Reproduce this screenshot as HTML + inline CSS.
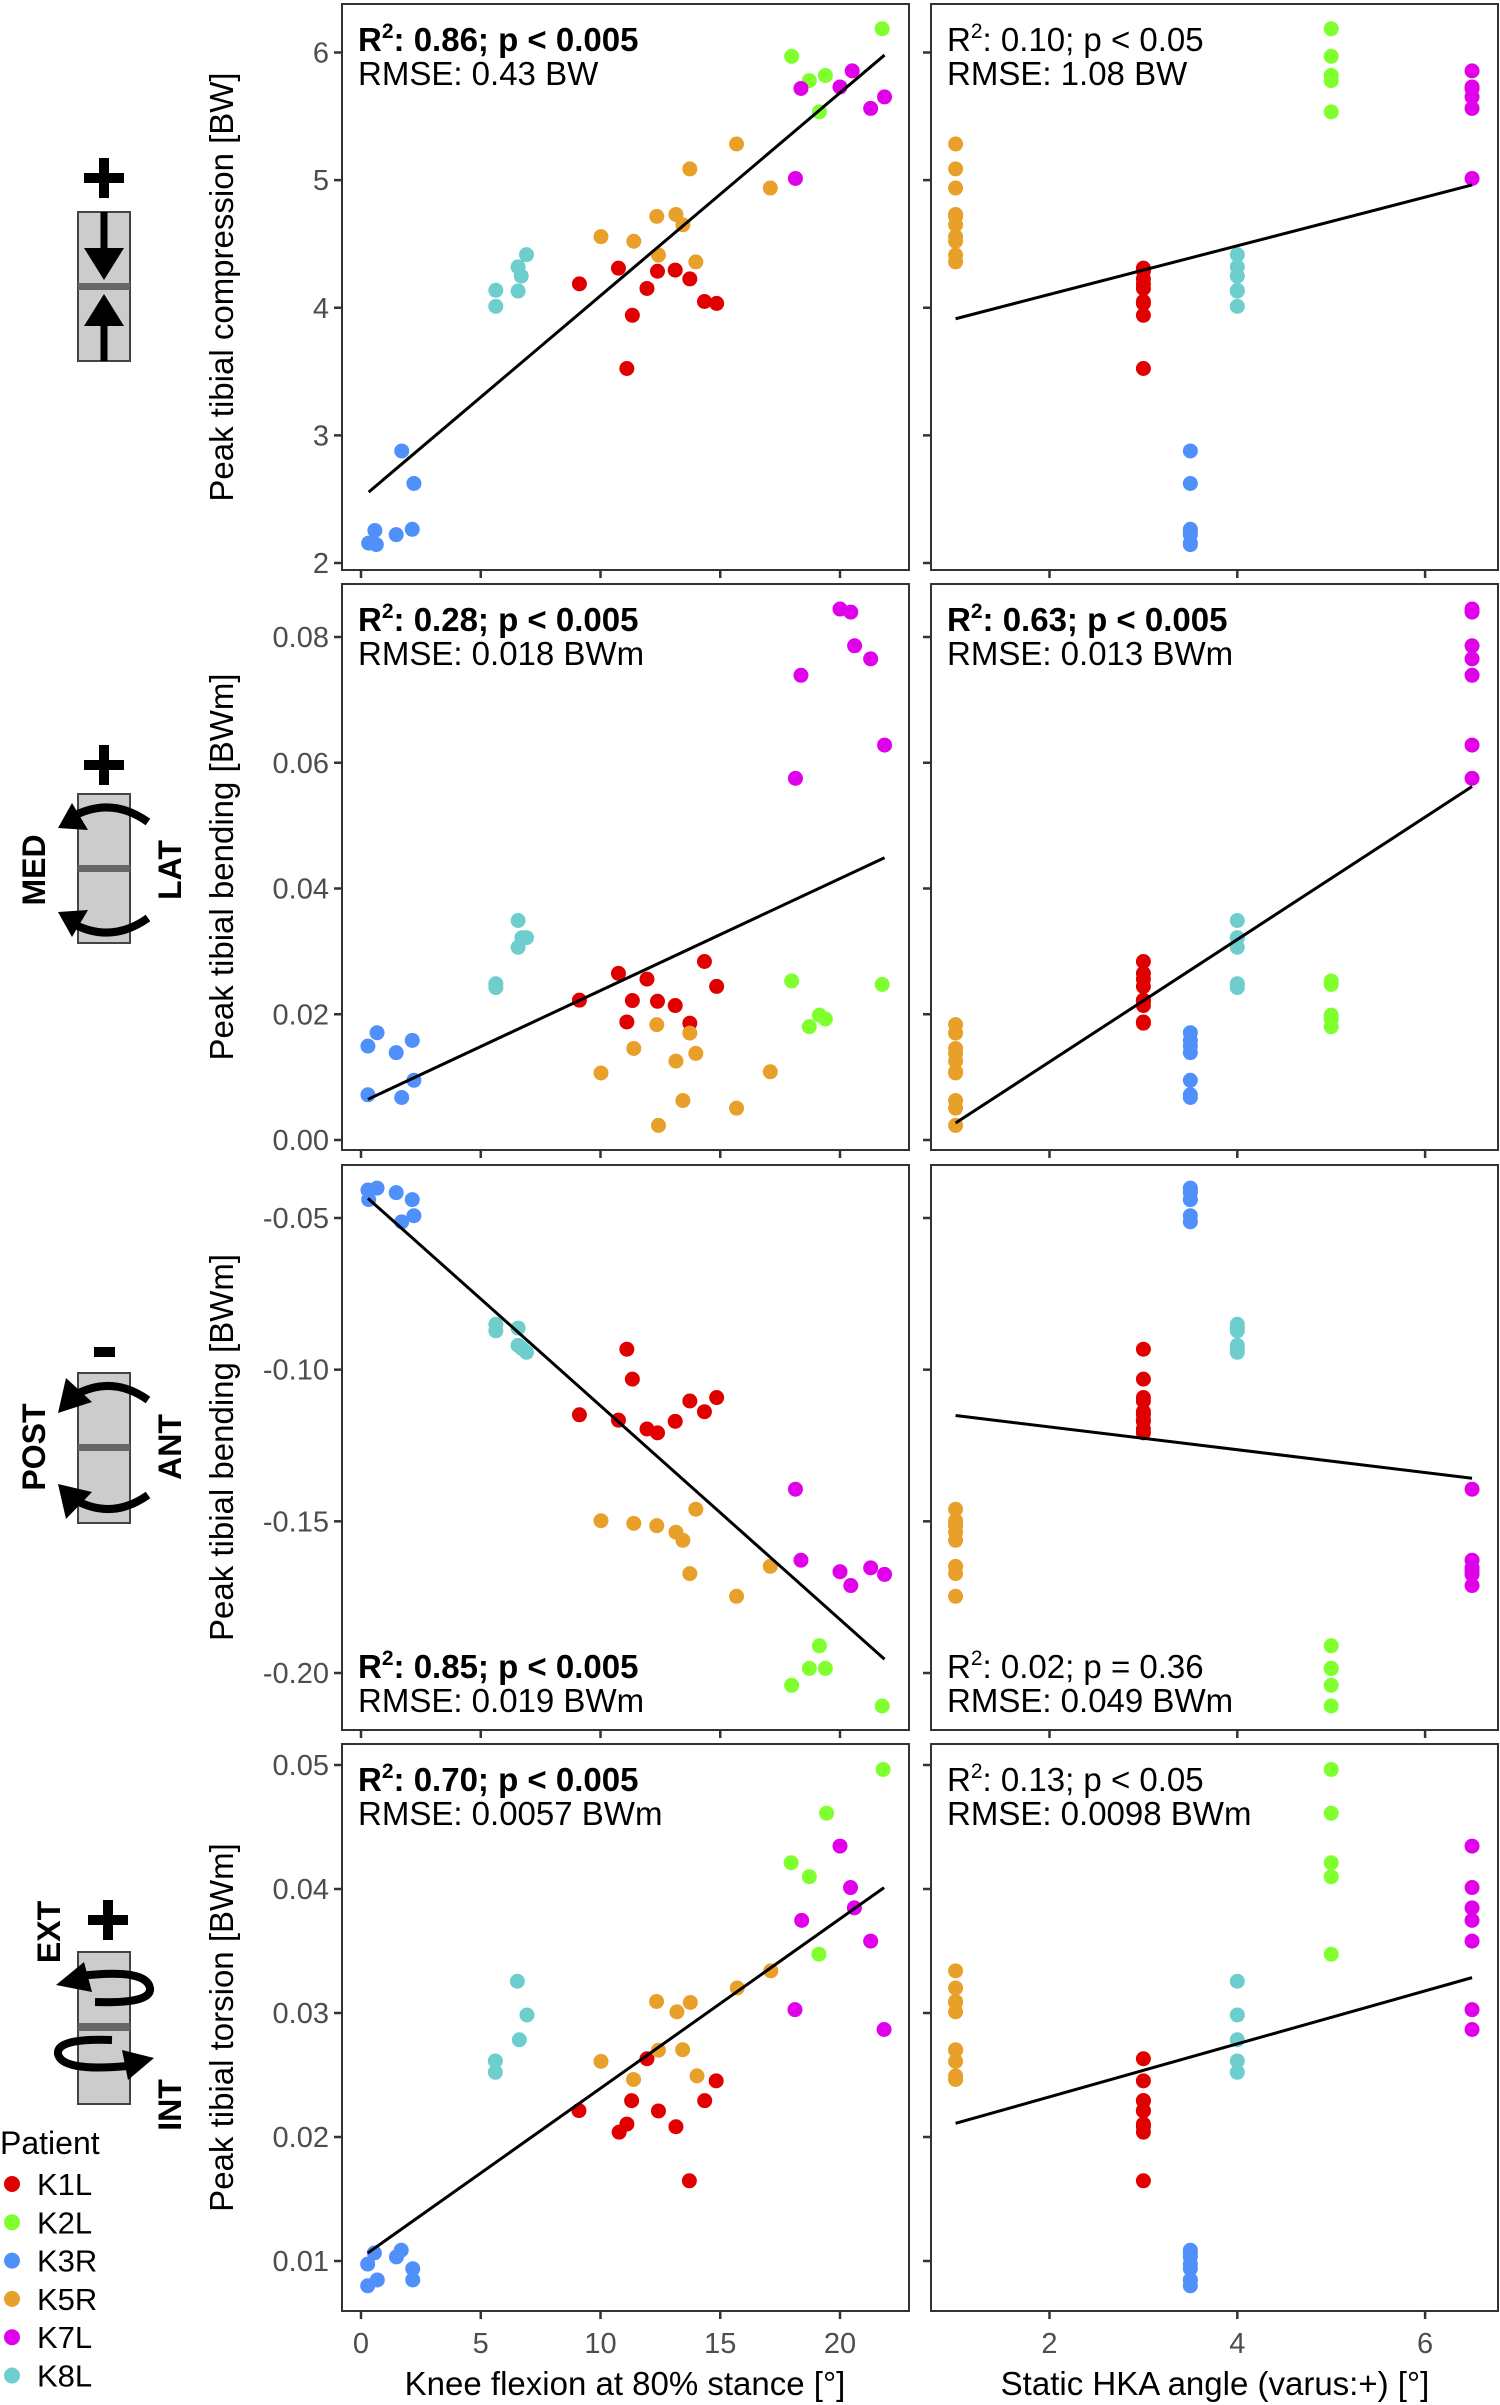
<!DOCTYPE html>
<html><head><meta charset="utf-8">
<style>
html,body{margin:0;padding:0;background:#fff;}
svg{display:block;font-family:"Liberation Sans",sans-serif;}
</style></head>
<body>
<svg id="fig" width="1500" height="2405" viewBox="0 0 1500 2405" xmlns="http://www.w3.org/2000/svg">
<g id="icons">
  <g>
    <rect x="78" y="212" width="52" height="149" fill="#ccc" stroke="#444" stroke-width="2"/>
    <rect x="78" y="283" width="52" height="7" fill="#666"/>
    <path d="M84,178 h40 M104,158 v40" stroke="#000" stroke-width="10"/>
    <path d="M104,212 v40" stroke="#000" stroke-width="7"/>
    <polygon points="84,248 124,248 104,280" fill="#000"/>
    <path d="M104,361 v-40" stroke="#000" stroke-width="7"/>
    <polygon points="84,326 124,326 104,294" fill="#000"/>
  </g>
  <g>
    <rect x="78" y="794" width="52" height="149" fill="#ccc" stroke="#444" stroke-width="2"/>
    <rect x="78" y="865" width="52" height="7" fill="#666"/>
    <path d="M84,765 h40 M104,745 v40" stroke="#000" stroke-width="10"/>
    <path d="M148,822 Q110,795 70,818" fill="none" stroke="#000" stroke-width="8"/>
    <polygon points="58,828 72,803 88,830" fill="#000"/>
    <path d="M148,918 Q110,945 70,922" fill="none" stroke="#000" stroke-width="8"/>
    <polygon points="58,912 72,937 88,910" fill="#000"/>
    <text transform="translate(45,870) rotate(-90)" text-anchor="middle" font-size="32" font-weight="bold">MED</text>
    <text transform="translate(181,870) rotate(-90)" text-anchor="middle" font-size="32" font-weight="bold">LAT</text>
  </g>
  <g>
    <rect x="78" y="1373" width="52" height="150" fill="#ccc" stroke="#444" stroke-width="2"/>
    <rect x="78" y="1444" width="52" height="7" fill="#666"/>
    <rect x="94" y="1347" width="21" height="10" fill="#000"/>
    <path d="M148,1400 Q110,1373 70,1398" fill="none" stroke="#000" stroke-width="8"/>
    <polygon points="58,1413 66,1378 92,1402" fill="#000"/>
    <path d="M148,1495 Q110,1522 70,1497" fill="none" stroke="#000" stroke-width="8"/>
    <polygon points="58,1484 66,1519 92,1492" fill="#000"/>
    <text transform="translate(45,1447) rotate(-90)" text-anchor="middle" font-size="32" font-weight="bold">POST</text>
    <text transform="translate(181,1447) rotate(-90)" text-anchor="middle" font-size="32" font-weight="bold">ANT</text>
  </g>
  <g>
    <rect x="78" y="1952" width="52" height="152" fill="#ccc" stroke="#444" stroke-width="2"/>
    <rect x="78" y="2023" width="52" height="8" fill="#666"/>
    <path d="M88,1920 h40 M108,1900 v40" stroke="#000" stroke-width="10"/>
    <path d="M95,2002 Q152,2004 150,1988 Q146,1968 80,1976" fill="none" stroke="#000" stroke-width="8"/>
    <polygon points="56,1985 84,1962 92,1992" fill="#000"/>
    <path d="M112,2040 Q56,2038 58,2054 Q62,2072 128,2066" fill="none" stroke="#000" stroke-width="8"/>
    <polygon points="154,2058 122,2050 128,2080" fill="#000"/>
    <text transform="translate(60,1932) rotate(-90)" text-anchor="middle" font-size="32" font-weight="bold">EXT</text>
    <text transform="translate(181,2105) rotate(-90)" text-anchor="middle" font-size="32" font-weight="bold">INT</text>
  </g>
</g>
<g id="panels"></g>
<g id="legend">
  <text x="0" y="2154" font-size="32" fill="#000">Patient</text>
</g>
<text x="625" y="2395" text-anchor="middle" font-size="33" fill="#000">Knee flexion at 80% stance [°]</text>
<text x="1215" y="2395" text-anchor="middle" font-size="33" fill="#000">Static HKA angle (varus:+) [°]</text>
</svg>
<script>
// ---- data ----
const patients = ["K1L","K2L","K3R","K5R","K7L","K8L"];
const patientColors = ["#e00000","#80ff2e","#5090fa","#e9a02a","#e000ea","#6ecdcd"];
const hkaAngle = [3, 5, 3.5, 1, 6.5, 4];

const r1Flex = [
 [9.12,10.75,11.1,11.33,11.94,12.38,13.12,13.73,14.34,14.85],
 [17.98,18.72,19.39,19.14,21.76],
 [0.32,0.64,0.58,1.47,2.14,1.70,2.21],
 [10.02,11.39,12.35,12.42,13.15,13.44,13.73,13.98,15.68,17.09],
 [18.14,18.37,20.0,20.51,21.28,21.86],
 [5.63,5.63,6.56,6.69,6.56,6.91]];
const r1Val = [
 [4.187,4.310,3.524,3.941,4.151,4.286,4.295,4.226,4.049,4.034],
 [5.97,5.78,5.82,5.535,6.186],
 [2.156,2.144,2.255,2.222,2.264,2.878,2.623],
 [4.557,4.521,4.716,4.413,4.731,4.650,5.088,4.359,5.283,4.938],
 [5.013,5.718,5.730,5.856,5.562,5.652],
 [4.011,4.137,4.131,4.248,4.320,4.416]];
const r2Flex = [
 [9.12,10.75,11.1,11.33,11.94,12.38,13.12,13.73,14.34,14.85],
 [17.98,18.72,19.39,19.14,21.76],
 [0.29,0.67,1.47,2.14,0.29,1.70,2.21],
 [10.02,11.39,12.35,12.42,13.15,13.44,13.73,13.98,15.68,17.09],
 [20.0,20.45,20.61,21.28,18.37,21.86,18.14],
 [5.63,5.63,6.56,6.56,6.72,6.91]];
const r2Val = [
 [0.02224,0.0265,0.01877,0.02218,0.02559,0.02206,0.02139,0.01858,0.02839,0.02443],
 [0.02529,0.01803,0.01925,0.01986,0.02474],
 [0.01493,0.01706,0.01389,0.01584,0.00719,0.00676,0.0095],
 [0.01066,0.01456,0.01834,0.00232,0.01255,0.00628,0.017,0.01377,0.00506,0.01085],
 [0.08445,0.08396,0.0786,0.07653,0.07391,0.06281,0.05752],
 [0.02486,0.02425,0.03491,0.03065,0.03217,0.03217]];
const r3Flex = [
 [9.12,10.75,11.1,11.33,11.94,12.38,13.12,13.73,14.34,14.85],
 [19.14,18.72,19.39,17.98,21.76],
 [0.29,0.67,0.32,1.47,2.14,1.70,2.21],
 [10.02,11.39,12.35,13.15,13.44,13.98,13.73,15.68,17.09],
 [18.14,18.37,20.0,20.45,21.28,21.86],
 [5.63,5.63,6.56,6.56,6.91,6.72]];
const r3Val = [
 [-0.11488,-0.11665,-0.09325,-0.10312,-0.11956,-0.12083,-0.11703,-0.11033,-0.11387,-0.10919],
 [-0.19102,-0.19848,-0.19848,-0.20405,-0.21088],
 [-0.04077,-0.04014,-0.04393,-0.04165,-0.04393,-0.05126,-0.04924],
 [-0.14979,-0.15067,-0.15143,-0.15358,-0.15624,-0.146,-0.16724,-0.17471,-0.16484],
 [-0.13942,-0.16282,-0.16661,-0.17116,-0.16534,-0.1675],
 [-0.08503,-0.08718,-0.0863,-0.09199,-0.09427,-0.093]];
const r4Flex = [
 [9.1,10.78,11.1,11.3,11.94,12.42,13.15,13.71,14.35,14.83],
 [17.96,18.72,19.12,19.44,21.8],
 [0.28,0.56,0.28,0.68,1.48,1.68,2.16,2.16],
 [10.02,11.38,12.34,12.42,13.19,13.43,13.75,14.03,15.71,17.11],
 [18.12,18.4,20.0,20.44,20.6,21.28,21.84],
 [5.61,5.61,6.53,6.61,6.93]];
const r4Val = [
 [0.02213,0.02039,0.02104,0.02293,0.02631,0.0221,0.02083,0.01647,0.02293,0.02453],
 [0.04212,0.04099,0.03474,0.04611,0.04964],
 [0.00975,0.01065,0.008,0.00847,0.01033,0.01087,0.00938,0.00847],
 [0.0261,0.02464,0.03093,0.027,0.03009,0.02704,0.03085,0.02493,0.03202,0.0334],
 [0.03027,0.03747,0.04346,0.04012,0.03848,0.0358,0.02867],
 [0.02613,0.02522,0.03256,0.02784,0.02984]];

const xTicksLeft = [0,5,10,15,20];
const xTicksRight = [2,4,6];
const r1Ticks = [2,3,4,5,6], r1TickLabels = ["2","3","4","5","6"];
const r2Ticks = [0,0.02,0.04,0.06,0.08], r2TickLabels = ["0.00","0.02","0.04","0.06","0.08"];
const r3Ticks = [-0.05,-0.10,-0.15,-0.20], r3TickLabels = ["-0.05","-0.10","-0.15","-0.20"];
const r4Ticks = [0.01,0.02,0.03,0.04,0.05], r4TickLabels = ["0.01","0.02","0.03","0.04","0.05"];

const rowTitles = ["Peak tibial compression [BW]","Peak tibial bending [BWm]","Peak tibial bending [BWm]","Peak tibial torsion [BWm]"];
const statsLeft = [["0.86","p < 0.005","RMSE: 0.43 BW",true],["0.28","p < 0.005","RMSE: 0.018 BWm",true],["0.85","p < 0.005","RMSE: 0.019 BWm",true],["0.70","p < 0.005","RMSE: 0.0057 BWm",true]];
const statsRight = [["0.10","p < 0.05","RMSE: 1.08 BW",false],["0.63","p < 0.005","RMSE: 0.013 BWm",true],["0.02","p = 0.36","RMSE: 0.049 BWm",false],["0.13","p < 0.05","RMSE: 0.0098 BWm",false]];

const NS = "http://www.w3.org/2000/svg";
const panelsG = document.getElementById('panels');
const L = {x0:342,x1:909}, R = {x0:931,x1:1498};
const xL = v => 361 + v*23.95;
const xR = v => 1049.5 + (v-2)*93.9;
const rowsLayout = [
 {top:4, bot:570, v0:6, p0:52.5, v1:2, p1:563},
 {top:584, bot:1150, v0:0.08, p0:637, v1:0, p1:1140},
 {top:1165, bot:1730, v0:-0.05, p0:1218, v1:-0.20, p1:1673},
 {top:1744, bot:2311, v0:0.05, p0:1765, v1:0.01, p1:2261}];
const rowsData = [[r1Flex,r1Val,r1Ticks,r1TickLabels],[r2Flex,r2Val,r2Ticks,r2TickLabels],[r3Flex,r3Val,r3Ticks,r3TickLabels],[r4Flex,r4Val,r4Ticks,r4TickLabels]];
const statsAtBottom = [false,false,true,false];

function mk(tag, attrs, parent){
  const e = document.createElementNS(NS, tag);
  for (const k in attrs) e.setAttribute(k, attrs[k]);
  parent.appendChild(e);
  return e;
}
function fit(xs, ys){
  let n=xs.length, sx=0, sy=0, sxx=0, sxy=0;
  for (let i=0;i<n;i++){sx+=xs[i];sy+=ys[i];sxx+=xs[i]*xs[i];sxy+=xs[i]*ys[i];}
  const b=(n*sxy-sx*sy)/(n*sxx-sx*sx); const a=(sy-b*sx)/n;
  return [a,b];
}

rowsData.forEach((rd, ri) => {
  const [flex, vals, ticks, tickLabels] = rd;
  const lay = rowsLayout[ri];
  const yS = v => lay.p0 + (v-lay.v0)*(lay.p1-lay.p0)/(lay.v1-lay.v0);
  const rowG = mk('g', {}, panelsG);
  
  

  const yt = mk('text', {transform:`translate(233,${(lay.top+lay.bot)/2}) rotate(-90)`, 'text-anchor':'middle', 'font-size':'33', fill:'#000'}, rowG);
  yt.textContent = rowTitles[ri];
  
  

  [0,1].forEach(side => {
    const P = side===0 ? L : R;
    const xS = side===0 ? xL : xR;
    const pg = mk('g', {}, rowG);
    
    
    mk('rect', {x:P.x0, y:lay.top, width:P.x1-P.x0, height:lay.bot-lay.top, fill:'#fff', stroke:'#333', 'stroke-width':'2'}, pg);
    ticks.forEach((t, ti) => {
      const y = yS(t);
      const tk = mk('line', {x1:P.x0-8, x2:P.x0, y1:y, y2:y, stroke:'#333', 'stroke-width':'2.5'}, pg);
      
      
      if (side===0){
        const tl = mk('text', {x:P.x0-13, y:y+10, 'text-anchor':'end', 'font-size':'29', fill:'#4d4d4d'}, pg);
        tl.textContent = tickLabels[ti];
        
        
      }
    });
    const xt = side===0 ? xTicksLeft : xTicksRight;
    xt.forEach(t => {
      const x = xS(t);
      const tk = mk('line', {x1:x, x2:x, y1:lay.bot, y2:lay.bot+8, stroke:'#333', 'stroke-width':'2.5'}, pg);
      
      
      if (ri===3){
        const tl = mk('text', {x:x, y:2353, 'text-anchor':'middle', 'font-size':'29', fill:'#4d4d4d'}, pg);
        tl.textContent = String(t);
        
        
      }
    });
    const allX = [], allY = [];
    patients.forEach((p, pi) => {
      vals[pi].forEach((v, k) => {
        const xv = side===0 ? flex[pi][k] : hkaAngle[pi];
        allX.push(xv); allY.push(v);
        const c = mk('circle', {cx:xS(xv), cy:yS(v), r:7.5, fill:patientColors[pi]}, pg);
        
        
      });
    });
    const [a,b] = fit(allX, allY);
    const mn = Math.min(...allX), mx = Math.max(...allX);
    const ln = mk('line', {x1:xS(mn), y1:yS(a+b*mn), x2:xS(mx), y2:yS(a+b*mx), stroke:'#000', 'stroke-width':'3'}, pg);
    
    
    const st = side===0 ? statsLeft[ri] : statsRight[ri];
    const tx = P.x0 + 16;
    const y1 = statsAtBottom[ri] ? lay.bot - 52 : lay.top + 47;
    const t1 = mk('text', {x:tx, y:y1, 'font-size':'33', fill:'#000', 'font-weight': st[3] ? 'bold' : 'normal'}, pg);
    t1.innerHTML = 'R<tspan font-size="21" dy="-13">2</tspan><tspan dy="13">: ' + st[0] + '; ' + st[1].replace('<','&lt;') + '</tspan>';
    
    
    const t2 = mk('text', {x:tx, y:y1+34, 'font-size':'33', fill:'#000'}, pg);
    t2.textContent = st[2];
    
    
  });
});

const legendG = document.getElementById('legend');
patients.forEach((p, i) => {
  const y = 2184 + i*38.3;
  const g = mk('g', {}, legendG);
  
  
  mk('circle', {cx:12, cy:y, r:8, fill:patientColors[i]}, g);
  const t = mk('text', {x:37, y:y+11, 'font-size':'31', fill:'#000'}, g);
  t.textContent = p;
});
</script>
</body></html>
